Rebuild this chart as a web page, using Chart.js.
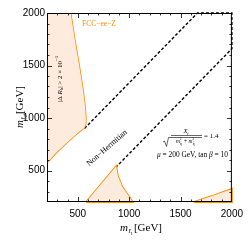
<!DOCTYPE html>
<html><head><meta charset="utf-8">
<script src="https://cdn.jsdelivr.net/npm/chart.js@4.4.0/dist/chart.umd.min.js"></script>
<style>html,body{margin:0;padding:0;background:#fff;}canvas{display:block;}</style>
</head><body>
<canvas id="c" width="249" height="240"></canvas>
<script>
// Axis ranges and ticks (GeV)
const axisMin = 200, axisMax = 2000, tickStep = 100, majorStep = 500;
const tickLabels = [500, 1000, 1500, 2000];

// |Delta R_b| > 2e-5 excluded region (left): orange boundary curve
const leftCurveM1 = [430, 470, 513, 545, 566, 579, 576, 562, 513, 450, 390, 300, 200];
const leftCurveM2 = [2000, 1750, 1500, 1300, 1150, 1000, 940, 905, 868, 815, 762, 680, 575];
// bottom triangle region
const triM1 = [580, 873, 890, 930, 1035, 580];
const triM2 = [200, 540, 450, 350, 200, 200];
// bottom-right region
const brM1 = [1630, 1800, 2000, 2000, 1630];
const brM2 = [200, 255, 325, 200, 200];
// Non-Hermitian boundary (dashed)
const nhM1 = [565, 1665, 2000, 2000, 880];
const nhM2 = [900, 2000, 2000, 1660, 540];

const ORANGE = '#ff8a00';
const FILL = 'rgba(253,236,221,1)';
const pts = (xs, ys) => xs.map((x, i) => ({x, y: ys[i]}));

const leftFillPts = pts(leftCurveM1, leftCurveM2).concat([{x: axisMin, y: axisMax}, {x: leftCurveM1[0], y: leftCurveM2[0]}]);

function drawRich(ctx, parts, x, y) {
  let cx = x;
  for (const p of parts) {
    ctx.font = p.font;
    ctx.fillText(p.t, cx, y + (p.dy || 0));
    cx += ctx.measureText(p.t).width + (p.sp || 0);
  }
  return cx;
}
function richWidth(ctx, parts) {
  let w = 0;
  for (const p of parts) { ctx.font = p.font; w += ctx.measureText(p.t).width + (p.sp || 0); }
  return w;
}

const SERIF = '"Liberation Serif", "DejaVu Serif", serif';

const decor = {
  id: 'decor',
  afterDatasetsDraw(chart) {
    const ctx = chart.ctx, a = chart.chartArea;
    const xs = chart.scales.x, ys = chart.scales.y;
    ctx.save();
    // frame
    ctx.strokeStyle = '#000'; ctx.lineWidth = 1;
    ctx.strokeRect(a.left + 0.5, a.top + 0.5, a.right - a.left - 1, a.bottom - a.top - 1);
    // inward ticks
    ctx.lineWidth = 0.8;
    for (let v = axisMin + tickStep; v < axisMax; v += tickStep) {
      const L = (v % majorStep === 0) ? 5 : 2.5;
      const px = Math.round(xs.getPixelForValue(v)) + 0.5;
      const py = Math.round(ys.getPixelForValue(v)) + 0.5;
      ctx.beginPath();
      ctx.moveTo(px, a.bottom); ctx.lineTo(px, a.bottom - L);
      ctx.moveTo(px, a.top); ctx.lineTo(px, a.top + L);
      ctx.moveTo(a.left, py); ctx.lineTo(a.left + L, py);
      ctx.moveTo(a.right, py); ctx.lineTo(a.right - L, py);
      ctx.stroke();
    }
    ctx.restore();

    // texts
    ctx.save();
    ctx.fillStyle = ORANGE;
    ctx.font = '7.5px ' + SERIF;
    ctx.textAlign = 'center'; ctx.textBaseline = 'middle';
    ctx.fillText('FCC\u2212ee\u2212Z', 99, 24.5);
    ctx.restore();

    // rotated Delta R_b label
    ctx.save();
    ctx.fillStyle = '#000';
    ctx.translate(61.5, 79); ctx.rotate(-Math.PI / 2);
    ctx.textBaseline = 'alphabetic';
    const dr = [
      {t: '|\u0394 ', font: '7px ' + SERIF},
      {t: 'R', font: 'italic 7px ' + SERIF},
      {t: 'b', font: 'italic 5px ' + SERIF, dy: 1.5},
      {t: '| > 2 \u00d7 10', font: '7px ' + SERIF},
      {t: '\u22125', font: '5px ' + SERIF, dy: -3.5}
    ];
    drawRich(ctx, dr, -richWidth(ctx, dr) / 2, 0);
    ctx.restore();

    // Non-Hermitian
    ctx.save();
    ctx.fillStyle = '#000';
    ctx.translate(107, 148); ctx.rotate(-41 * Math.PI / 180);
    ctx.font = '8px ' + SERIF; ctx.textAlign = 'center'; ctx.textBaseline = 'middle';
    ctx.fillText('Non\u2212Hermitian', 0, 0);
    ctx.restore();

    // formula
    ctx.save();
    ctx.fillStyle = '#000'; ctx.strokeStyle = '#000';
    ctx.textBaseline = 'alphabetic';
    const num = [{t: 'X', font: 'italic 6.5px ' + SERIF}, {t: 't', font: 'italic 4.5px ' + SERIF, dy: 1.5}];
    drawRich(ctx, num, 186 - richWidth(ctx, num) / 2, 133);
    ctx.lineWidth = 0.6;
    ctx.beginPath(); ctx.moveTo(171, 135.5); ctx.lineTo(202, 135.5); ctx.stroke();
    // sqrt sign
    ctx.beginPath();
    ctx.moveTo(163, 142); ctx.lineTo(164.5, 141); ctx.lineTo(166.5, 146.5); ctx.lineTo(168.5, 137.5); ctx.lineTo(202, 137.5);
    ctx.stroke();
    const den = [
      {t: 'm', font: 'italic 5.5px ' + SERIF},
      {t: '2', font: '3.5px ' + SERIF, dy: -2.5, sp: -1.5},
      {t: 't\u0303', font: 'italic 3.5px ' + SERIF, dy: 2},
      {t: '1', font: '3px ' + SERIF, dy: 3},
      {t: ' + ', font: '5.5px ' + SERIF},
      {t: 'm', font: 'italic 5.5px ' + SERIF},
      {t: '2', font: '3.5px ' + SERIF, dy: -2.5, sp: -1.5},
      {t: 't\u0303', font: 'italic 3.5px ' + SERIF, dy: 2},
      {t: '2', font: '3px ' + SERIF, dy: 3}
    ];
    drawRich(ctx, den, 185.5 - richWidth(ctx, den) / 2, 142.5);
    ctx.font = '7px ' + SERIF;
    ctx.fillText('= 1.4', 204, 137.5);
    const mu = [
      {t: '\u03bc', font: 'italic 7.4px ' + SERIF},
      {t: ' = 200 GeV, tan ', font: '7.4px ' + SERIF},
      {t: '\u03b2', font: 'italic 7.4px ' + SERIF},
      {t: ' = 10', font: '7.4px ' + SERIF}
    ];
    ctx.textAlign = 'left';
    drawRich(ctx, mu, 228 - richWidth(ctx, mu), 157);
    ctx.restore();

    // axis titles
    ctx.save();
    ctx.fillStyle = '#000'; ctx.textBaseline = 'alphabetic';
    const xt = [
      {t: 'm', font: 'italic 11px ' + SERIF, sp: 0.5},
      {t: 't\u0303', font: 'italic 7px ' + SERIF, dy: 2},
      {t: '1', font: '5px ' + SERIF, dy: 4, sp: 1},
      {t: '[GeV]', font: '11px ' + SERIF}
    ];
    drawRich(ctx, xt, 120, 231);
    ctx.translate(23, 128); ctx.rotate(-Math.PI / 2);
    const yt = [
      {t: 'm', font: 'italic 11px ' + SERIF, sp: 0.5},
      {t: 't\u0303', font: 'italic 7px ' + SERIF, dy: 2},
      {t: '2', font: '5px ' + SERIF, dy: 4, sp: 1},
      {t: '[GeV]', font: '11px ' + SERIF}
    ];
    drawRich(ctx, yt, 0, 0);
    ctx.restore();
  }
};

const tickCb = v => (tickLabels.includes(v) ? String(v) : '');
const scaleCommon = {
  type: 'linear', min: axisMin, max: axisMax,
  grid: {display: false, drawTicks: false},
  border: {display: false},
  title: {display: false}
};

new Chart(document.getElementById('c'), {
  type: 'scatter',
  data: {
    datasets: [
      {data: leftFillPts, showLine: true, fill: 'shape', backgroundColor: FILL, borderWidth: 0, pointRadius: 0},
      {data: pts(triM1, triM2), showLine: true, fill: 'shape', backgroundColor: FILL, borderWidth: 0, pointRadius: 0},
      {data: pts(brM1, brM2), showLine: true, fill: 'shape', backgroundColor: FILL, borderWidth: 0, pointRadius: 0},
      {data: pts(leftCurveM1, leftCurveM2), showLine: true, fill: false, borderColor: ORANGE, borderWidth: 1.6, pointRadius: 0, tension: 0},
      {data: pts(triM1, triM2), showLine: true, fill: false, borderColor: ORANGE, borderWidth: 1.8, pointRadius: 0, clip: 3},
      {data: pts(brM1, brM2), showLine: true, fill: false, borderColor: ORANGE, borderWidth: 1.8, pointRadius: 0, clip: 3},
      {data: pts(nhM1, nhM2), showLine: true, fill: false, borderColor: '#000', borderWidth: 1.4, borderDash: [3, 2], pointRadius: 0, clip: 3}
    ]
  },
  options: {
    responsive: false, animation: false, devicePixelRatio: 1,
    layout: {padding: {top: 13, right: 12, left: 0, bottom: 0}},
    plugins: {legend: {display: false}, tooltip: {enabled: false}},
    scales: {
      x: Object.assign({}, scaleCommon, {
        ticks: {stepSize: tickStep, autoSkip: false, maxRotation: 0, padding: 6, color: '#000',
          font: {family: '"Liberation Sans", Arial, sans-serif', size: 10}, callback: tickCb},
        afterFit: s => { s.height = 38; }
      }),
      y: Object.assign({}, scaleCommon, {
        ticks: {stepSize: tickStep, autoSkip: false, padding: 2, color: '#000',
          font: {family: '"Liberation Sans", Arial, sans-serif', size: 10}, callback: tickCb},
        afterFit: s => { s.width = 47; }
      })
    }
  },
  plugins: [decor]
});
</script>
</body></html>
